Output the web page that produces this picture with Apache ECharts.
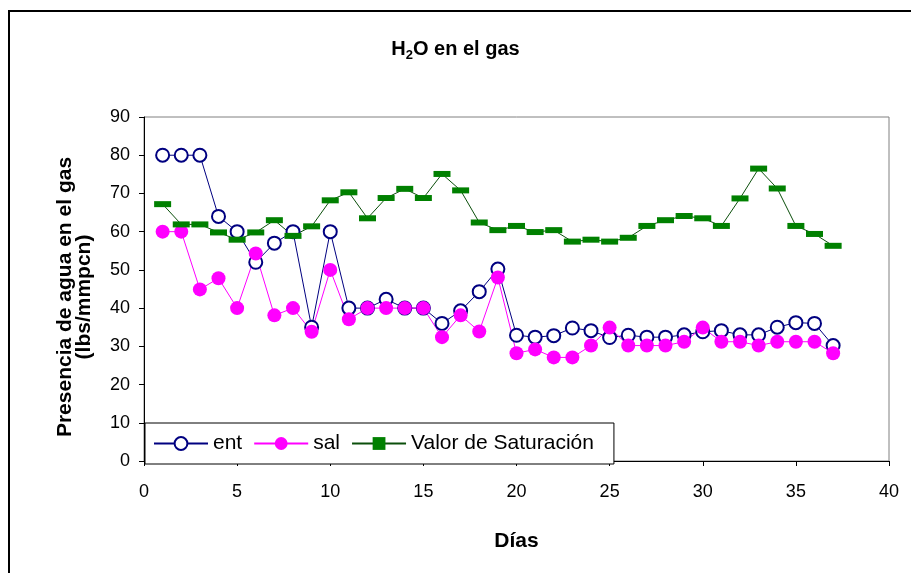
<!DOCTYPE html>
<html>
<head>
<meta charset="utf-8">
<title>H2O en el gas</title>
<script src="https://cdn.jsdelivr.net/npm/echarts@6/dist/echarts.min.js"></script>
<style>
  html, body { margin: 0; padding: 0; background: #fff; }
  #chart { width: 911px; height: 573px; }
</style>
</head>
<body>
<div id="chart"></div>
<script>
// days 1..37
var dias = [1, 2, 3, 4, 5, 6, 7, 8, 9, 10, 11, 12, 13, 14, 15, 16, 17, 18, 19, 20,
  21, 22, 23, 24, 25, 26, 27, 28, 29, 30, 31, 32, 33, 34, 35, 36, 37];

var ent = [80, 80, 80, 64, 60, 52, 57, 60, 35, 60, 40, 40, 42.3, 40, 40, 36, 39.3, 44.3, 50.2, 32.9,
  32.4, 32.8, 34.8, 34.1, 32.3, 32.9, 32.4, 32.4, 33, 33.8, 34.1, 33, 33, 35, 36.2, 36, 30.2];

var sal = [60, 60, 44.9, 47.8, 40, 54.3, 38.1, 40, 33.8, 50, 37.1, 40, 40, 40, 40, 32.4, 38.1, 33.9, 48, 28.2,
  29.2, 27.1, 27.1, 30.2, 34.9, 30.2, 30.2, 30.2, 31.2, 34.9, 31.2, 31.2, 30.2, 31.2, 31.2, 31.2, 28.2];

var saturacion = [67.2, 61.9, 61.9, 59.8, 57.9, 59.8, 63, 58.9, 61.4, 68.2, 70.3, 63.5, 68.8, 71.2, 68.8, 75.1, 70.8, 62.4, 60.4, 61.5,
  59.9, 60.4, 57.4, 57.9, 57.4, 58.4, 61.5, 63, 64.1, 63.5, 61.5, 68.7, 76.5, 71.3, 61.5, 59.4, 56.3];

var xTicks = { min: 0, max: 40, interval: 5 };
var yTicks = { min: 0, max: 90, interval: 10 };

function pairs(ys) {
  return dias.map(function (d, i) { return [d, ys[i]]; });
}

var font = 'Arial, "Liberation Sans", sans-serif';

var option = {
  animation: false,
  backgroundColor: '#fff',
  textStyle: { fontFamily: font },
  title: {
    text: '{a|H}{b|2}{a|O en el gas}',
    left: 'center',
    top: 32,
    textStyle: {
      rich: {
        a: { fontFamily: font, fontWeight: 'bold', fontSize: 20, color: '#000' },
        b: { fontFamily: font, fontWeight: 'bold', fontSize: 13, color: '#000', padding: [12, 0, 0, 0] }
      }
    }
  },
  graphic: [
    {
      type: 'rect',
      shape: { x: 9, y: 11, width: 1000, height: 1000 },
      style: { fill: 'none', stroke: '#000', lineWidth: 2 },
      silent: true
    }
  ],
  legend: {
    left: 145,
    top: 423,
    orient: 'horizontal',
    backgroundColor: '#fff',
    borderColor: '#000',
    borderWidth: 1,
    borderRadius: 0,
    padding: [10, 20, 10, 8],
    itemWidth: 54,
    itemHeight: 16,
    itemGap: 11,
    textStyle: { fontFamily: font, fontSize: 21, color: '#000' },
    data: ['ent', 'sal', 'Valor de Saturación']
  },
  grid: {
    left: 144,
    top: 117,
    right: 22,
    bottom: 112,
    show: true,
    borderColor: '#808080',
    borderWidth: 1
  },
  xAxis: {
    type: 'value',
    min: xTicks.min,
    max: xTicks.max,
    interval: xTicks.interval,
    name: 'Días',
    nameLocation: 'middle',
    nameGap: 70,
    nameTextStyle: { fontFamily: font, fontWeight: 'bold', fontSize: 21, color: '#000' },
    axisLine: { show: true, onZero: false, lineStyle: { color: '#000', width: 1 } },
    axisTick: { show: true, inside: false, length: 5, lineStyle: { color: '#000' } },
    axisLabel: { fontFamily: font, fontSize: 18, color: '#000', margin: 22 },
    splitLine: { show: false }
  },
  yAxis: {
    type: 'value',
    min: yTicks.min,
    max: yTicks.max,
    interval: yTicks.interval,
    name: 'Presencia de agua en el gas\n(lbs/mmpcn)',
    nameLocation: 'middle',
    nameRotate: 90,
    nameGap: 50,
    nameTextStyle: { fontFamily: font, fontWeight: 'bold', fontSize: 21, color: '#000', lineHeight: 19, padding: [0, 16, 0, 0] },
    axisLine: { show: true, onZero: false, lineStyle: { color: '#000', width: 1 } },
    axisTick: { show: true, inside: false, length: 5, lineStyle: { color: '#000' } },
    axisLabel: { fontFamily: font, fontSize: 18, color: '#000', margin: 14 },
    splitLine: { show: false }
  },
  series: [
    {
      name: 'ent',
      type: 'line',
      data: pairs(ent),
      symbol: 'circle',
      symbolSize: 13,
      showAllSymbol: true,
      lineStyle: { color: '#000080', width: 1 },
      itemStyle: { color: '#fff', borderColor: '#000080', borderWidth: 2 }
    },
    {
      name: 'sal',
      type: 'line',
      data: pairs(sal),
      symbol: 'circle',
      symbolSize: 14,
      showAllSymbol: true,
      lineStyle: { color: '#ff00ff', width: 1 },
      itemStyle: { color: '#ff00ff', borderWidth: 0 }
    },
    {
      name: 'Valor de Saturación',
      type: 'line',
      data: pairs(saturacion),
      symbol: 'rect',
      symbolSize: [17, 6],
      showAllSymbol: true,
      lineStyle: { color: '#0b4f0b', width: 1 },
      itemStyle: { color: '#008000', borderWidth: 0 }
    }
  ]
};

var chart = echarts.init(document.getElementById('chart'));
chart.setOption(option);
</script>
</body>
</html>
